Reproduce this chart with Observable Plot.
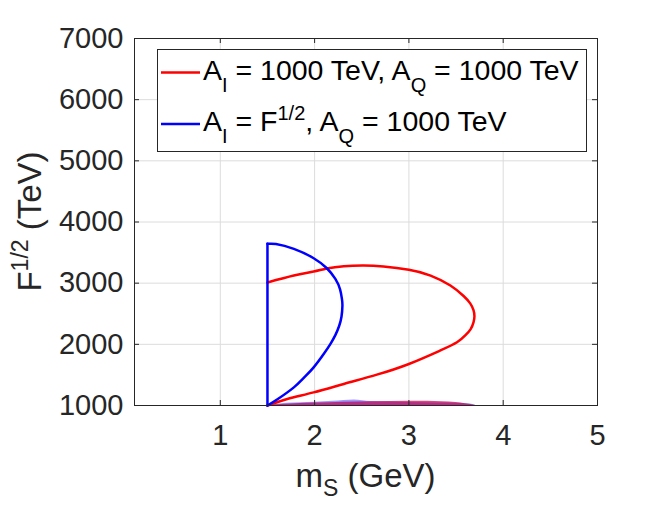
<!DOCTYPE html>
<html><head><meta charset="utf-8">
<script src="https://cdn.jsdelivr.net/npm/d3@7"></script>
<script src="https://cdn.jsdelivr.net/npm/@observablehq/plot@0.6"></script>
<style>
body{margin:0;background:#fff;}
#wrap{position:relative;width:661px;height:510px;}
</style></head><body><div id="wrap"></div>
<script>
// axes
const xDomain = [0.09, 5];
const yDomain = [1000, 7000];
const xTicks = [1, 2, 3, 4, 5];
const yTicks = [1000, 2000, 3000, 4000, 5000, 6000, 7000];

// red curve: A_I = 1000 TeV, A_Q = 1000 TeV
const redMs = [1.50, 1.78, 1.99, 2.13, 2.31, 2.52, 2.73, 3.00, 3.23, 3.44, 3.58, 3.65, 3.685, 3.695, 3.685, 3.655, 3.60, 3.51, 3.33, 3.00, 2.66, 2.31, 1.99, 1.71, 1.50];
const redF  = [3010, 3124, 3190, 3240, 3277, 3288, 3272, 3218, 3124, 2961, 2790, 2670, 2560, 2460, 2360, 2250, 2150, 2033, 1897, 1679, 1504, 1352, 1214, 1106, 1000];

// blue curve: A_I = F^1/2, A_Q = 1000 TeV (vertical edge, then the arc)
const blueEdgeMs = [1.50, 1.50];
const blueEdgeF  = [1000, 3643];
const blueArcMs = [1.50, 1.59, 1.78, 1.99, 2.13, 2.22, 2.27, 2.29, 2.295, 2.285, 2.26, 2.22, 2.165, 2.10, 1.99, 1.885, 1.78, 1.61, 1.50];
const blueArcF  = [3643, 3640, 3561, 3408, 3244, 3070, 2900, 2740, 2633, 2450, 2300, 2150, 2000, 1850, 1624, 1450, 1296, 1106, 1000];

// shaded regions near the bottom
const blueAreaMs = [1.50, 1.70, 2.00, 2.20, 2.42, 2.60, 3.00, 3.30, 3.50, 3.65, 3.71];
const blueAreaF  = [1000, 1035, 1055, 1070, 1090, 1065, 1050, 1040, 1035, 1025, 1000];
const redAreaMs = [1.50, 1.70, 2.00, 2.30, 2.60, 3.00, 3.20, 3.35, 3.50, 3.60, 3.71];
const redAreaF  = [1000, 1020, 1040, 1055, 1062, 1068, 1070, 1060, 1050, 1030, 1000];

const legendLabels = ["A_I = 1000 TeV, A_Q = 1000 TeV", "A_I = F^1/2, A_Q = 1000 TeV"];

const zip = (xs, ys, seg = 0) => xs.map((m, i) => ({m, F: ys[i], seg}));
const red = zip(redMs, redF);
const blue = [...zip(blueEdgeMs, blueEdgeF, 0), ...zip(blueArcMs, blueArcF, 1)];
const blueArea = zip(blueAreaMs, blueAreaF), redArea = zip(redAreaMs, redAreaF);

const W = 661, H = 510, mL = 134, mR = 64, mT = 38, mB = 105;
const innerW = W - mL - mR, innerH = H - mT - mB;
const tickLen = 5;
const ink = "#262626";
const font = "'Liberation Sans', Arial, sans-serif";

const svg = Plot.plot({
  width: W, height: H,
  marginLeft: mL, marginRight: mR, marginTop: mT, marginBottom: mB,
  x: {domain: xDomain},
  y: {domain: yDomain},
  style: {fontFamily: font, fontSize: "29px", color: ink, background: "white", overflow: "visible"},
  marks: [
    Plot.gridX(xTicks, {stroke: "#dcdcdc", strokeOpacity: 1}),
    Plot.gridY(yTicks, {stroke: "#dcdcdc", strokeOpacity: 1}),
    Plot.areaY(blueArea, {x: "m", y1: yDomain[0], y2: "F", fill: "blue", fillOpacity: 0.4, curve: "monotone-x"}),
    Plot.areaY(redArea, {x: "m", y1: yDomain[0], y2: "F", fill: "#c00050", fillOpacity: 0.7, curve: "monotone-x"}),
    Plot.line(red, {x: "m", y: "F", stroke: "#ff0000", strokeWidth: 2.5, curve: "natural"}),
    Plot.line(blue, {x: "m", y: "F", z: "seg", stroke: "#0000ff", strokeWidth: 2.5, curve: "natural"}),
    Plot.ruleX(xTicks, {x: d => d, insetTop: innerH - tickLen, stroke: ink}),
    Plot.ruleX(xTicks, {x: d => d, insetBottom: innerH - tickLen, stroke: ink}),
    Plot.ruleY(yTicks, {y: d => d, insetRight: innerW - tickLen, stroke: ink}),
    Plot.ruleY(yTicks, {y: d => d, insetLeft: innerW - tickLen, stroke: ink}),
    Plot.frame({stroke: ink}),
    Plot.axisX(xTicks, {tickSize: 0, tickPadding: 19, label: null, fill: ink, fontSize: 29, tickFormat: d3.format("d")}),
    Plot.axisY(yTicks, {tickSize: 0, tickPadding: 11, label: null, fill: ink, fontSize: 29, tickFormat: d3.format("d")})
  ]
});
document.getElementById("wrap").appendChild(svg);

const s = d3.select(svg);

// x label
const xl = s.append("text").attr("x", mL + innerW / 2).attr("y", 487)
  .attr("text-anchor", "middle").attr("font-size", 33).attr("fill", ink).attr("font-family", font);
xl.append("tspan").text("m");
xl.append("tspan").attr("font-size", 23).attr("dy", 9).text("S");
xl.append("tspan").attr("dy", -9).text(" (GeV)");

// y label
const yl = s.append("text").attr("transform", `translate(41,${mT + innerH / 2}) rotate(-90)`)
  .attr("text-anchor", "middle").attr("font-size", 33).attr("fill", ink).attr("font-family", font);
yl.append("tspan").text("F");
yl.append("tspan").attr("font-size", 23).attr("dy", -13).text("1/2");
yl.append("tspan").attr("dy", 13).text(" (TeV)");

// legend
const lg = s.append("g").attr("text-anchor", "start");
lg.append("rect").attr("x", 157.5).attr("y", 49.5).attr("width", 429).attr("height", 102)
  .attr("fill", "white").attr("stroke", ink);
const colors = ["#ff0000", "#0000ff"];
const rowsY = [79.5, 131];
legendLabels.forEach((lab, i) => {
  const yb = rowsY[i];
  lg.append("line").attr("x1", 161).attr("x2", 200).attr("y1", yb - 7).attr("y2", yb - 7)
    .attr("stroke", colors[i]).attr("stroke-width", 2.5);
  const t = lg.append("text").attr("x", 203).attr("y", yb).attr("font-size", 28.5)
    .attr("text-anchor", "start").attr("fill", "#000").attr("font-family", font);
  const parts = lab.split(/(_[A-Z]|\^1\/2)/).filter(p => p !== "");
  let shift = 0;
  parts.forEach(p => {
    if (p.startsWith("_")) {
      t.append("tspan").attr("font-size", 20).attr("dy", 12 - shift).text(p.slice(1));
      shift = 12;
    } else if (p.startsWith("^")) {
      t.append("tspan").attr("font-size", 20).attr("dy", -11 - shift).text(p.slice(1));
      shift = -11;
    } else {
      t.append("tspan").attr("dy", -shift).text(p);
      shift = 0;
    }
  });
});
</script>
</body></html>
